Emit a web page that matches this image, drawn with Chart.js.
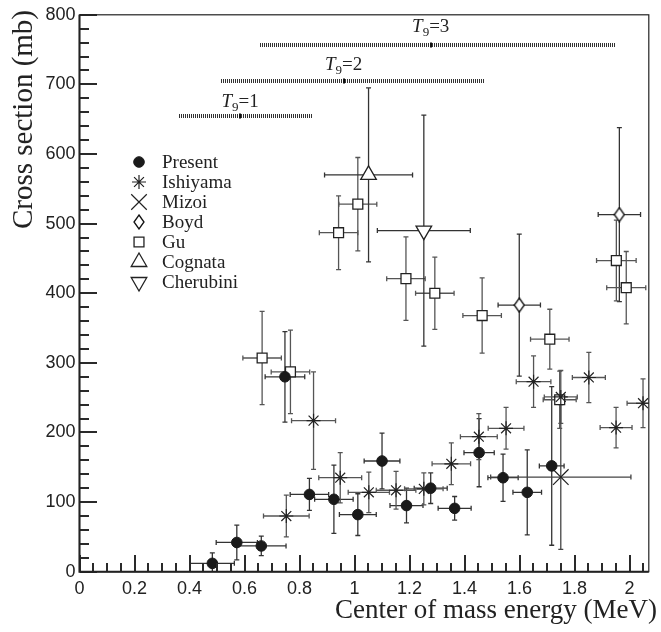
<!DOCTYPE html>
<html>
<head>
<meta charset="utf-8">
<script src="https://cdn.jsdelivr.net/npm/chart.js@4/dist/chart.umd.min.js"></script>
<style>
  html, body { margin: 0; padding: 0; background: #fff; }
  canvas { display: block; }
</style>
</head>
<body>
<canvas id="grafico" width="661" height="632"></canvas>
<script>
// Dados (energia em MeV, seção de choque em mb)
const presentE = [0.483, 0.572, 0.661, 0.747, 0.836, 0.925, 1.012, 1.100, 1.189, 1.277, 1.364, 1.453, 1.540, 1.628, 1.717];
const presentS = [12, 42, 37, 280, 111, 104, 82, 159, 95, 120, 91, 171, 135, 114, 152];
const presentDE = [0.08, 0.075, 0.09, 0.072, 0.07, 0.07, 0.067, 0.065, 0.06, 0.06, 0.06, 0.055, 0.055, 0.052, 0.045];
const presentDS = [15, 25, 14, 65, 23, 49, 30, 40, 25, 22, 17, 49, 34, 61, 114];

const ishiyamaE = [0.752, 0.851, 0.948, 1.052, 1.151, 1.252, 1.352, 1.452, 1.551, 1.651, 1.750, 1.852, 1.951, 2.049];
const ishiyamaS = [80, 217, 135, 114, 117, 119, 155, 194, 206, 273, 251, 279, 207, 242];
const ishiyamaDE = [0.083, 0.08, 0.078, 0.075, 0.072, 0.07, 0.07, 0.067, 0.065, 0.063, 0.06, 0.06, 0.058, 0.058];
const ishiyamaDS = [30, 70, 36, 29, 27, 23, 30, 33, 30, 37, 38, 36, 29, 35];

const mizoiE = [1.75];
const mizoiS = [136];
const mizoiDE = [0.255];
const mizoiDS = [104];

const boydE = [1.599, 1.963];
const boydS = [383, 513];
const boydDE = [0.077, 0.077];
const boydDS = [102, 125];

const guE = [0.664, 0.767, 0.942, 1.012, 1.187, 1.292, 1.464, 1.710, 1.746, 1.952, 1.988];
const guS = [307, 287, 487, 528, 421, 400, 368, 334, 247, 447, 408];
const guDE = [0.07, 0.07, 0.07, 0.069, 0.07, 0.07, 0.07, 0.07, 0.06, 0.072, 0.071];
const guDS = [67, 60, 53, 67, 60, 52, 54, 43, 41, 58, 52];

const cognataE = [1.051];
const cognataS = [570];
const cognataDE = [0.16];
const cognataDS = [125];

const cherubiniE = [1.252];
const cherubiniS = [490];
const cherubiniDE = [0.169];
const cherubiniDS = [166];

// Janelas de Gamow
const t9Rotulos = ['1', '2', '3'];
const t9Inicio = [0.36, 0.514, 0.655];
const t9Fim = [0.843, 1.467, 1.945];
const t9Nivel = [654, 705, 756];
const t9Pico = [0.584, 0.96, 1.277];

// posições das marcas dos eixos (principais e secundárias)
const marcasX = [];
for (let k = 0; k * 5 <= 207; k++) marcasX.push({ v: k * 0.05, maior: k % 4 === 0 });
const marcasY = [];
for (let k = 0; k * 20 <= 800; k++) marcasY.push({ v: k * 20, maior: k % 5 === 0 });

const legendaNomes = ['Present', 'Ishiyama', 'Mizoi', 'Boyd', 'Gu', 'Cognata', 'Cherubini'];

const SERIF = '"Liberation Serif", "Times New Roman", serif';
const SANS = '"Liberation Sans", Arial, sans-serif';

function pontos(E, S, dE, dS) {
    return E.map((e, i) => ({ x: e, y: S[i], dx: dE[i], dy: dS[i] }));
}

// losango mais alto que largo (Boyd)
function losango(w, h) {
    const c = document.createElement('canvas');
    c.width = w + 2;
    c.height = h + 2;
    const g = c.getContext('2d');
    g.beginPath();
    g.moveTo(c.width / 2, 1);
    g.lineTo(c.width - 1, c.height / 2);
    g.lineTo(c.width / 2, c.height - 1);
    g.lineTo(1, c.height / 2);
    g.closePath();
    g.fillStyle = '#fff';
    g.fill();
    g.strokeStyle = '#111';
    g.lineWidth = 1.3;
    g.stroke();
    return c;
}
const imgLosango = losango(10, 14);

const estilos = [
    { pointStyle: 'circle', radius: 5.3, backgroundColor: '#1a1a1a', borderColor: '#1a1a1a', borderWidth: 1, rotation: 0 },
    { pointStyle: 'star', radius: 7, backgroundColor: '#fff', borderColor: '#222', borderWidth: 1.2, rotation: 0 },
    { pointStyle: 'crossRot', radius: 11, backgroundColor: '#fff', borderColor: '#222', borderWidth: 1.2, rotation: 0 },
    { pointStyle: imgLosango, radius: 7, backgroundColor: '#fff', borderColor: '#222', borderWidth: 1.2, rotation: 0 },
    { pointStyle: 'rect', radius: 7, backgroundColor: '#fff', borderColor: '#222', borderWidth: 1.3, rotation: 0 },
    { pointStyle: 'triangle', radius: 9, backgroundColor: '#fff', borderColor: '#222', borderWidth: 1.3, rotation: 0 },
    { pointStyle: 'triangle', radius: 9, backgroundColor: '#fff', borderColor: '#222', borderWidth: 1.3, rotation: 180 }
];

const series = [
    pontos(presentE, presentS, presentDE, presentDS),
    pontos(ishiyamaE, ishiyamaS, ishiyamaDE, ishiyamaDS),
    pontos(mizoiE, mizoiS, mizoiDE, mizoiDS),
    pontos(boydE, boydS, boydDE, boydDS),
    pontos(guE, guS, guDE, guDS),
    pontos(cognataE, cognataS, cognataDE, cognataDS),
    pontos(cherubiniE, cherubiniS, cherubiniDE, cherubiniDS)
];
const corErro = ['#333', '#555', '#444', '#333', '#555', '#333', '#333'];

const datasets = series.map((dados, i) => {
    const e = estilos[i];
    return {
        label: legendaNomes[i],
        data: dados,
        erros: true,
        corErro: corErro[i],
        pointStyle: e.pointStyle,
        pointRadius: e.radius,
        pointBackgroundColor: e.backgroundColor,
        pointBorderColor: e.borderColor,
        pointBorderWidth: e.borderWidth,
        pointRotation: e.rotation,
        pointHoverRadius: e.radius
    };
});

const barrasErro = {
    id: 'barrasErro',
    beforeDatasetsDraw(chart) {
        const { ctx, chartArea: a } = chart;
        const x = chart.scales.x, y = chart.scales.y;

        ctx.save();
        ctx.setLineDash([]);
        ctx.beginPath();
        ctx.rect(a.left, a.top, a.right - a.left, a.bottom - a.top);
        ctx.clip();
        ctx.lineWidth = 1.3;
        const c = 2.5;
        chart.data.datasets.forEach(ds => {
            if (!ds.erros) return;
            ctx.strokeStyle = ds.corErro;
            ds.data.forEach(p => {
                const px = x.getPixelForValue(p.x), py = y.getPixelForValue(p.y);
                const x1 = x.getPixelForValue(p.x - p.dx), x2 = x.getPixelForValue(p.x + p.dx);
                const y1 = y.getPixelForValue(p.y - p.dy), y2 = y.getPixelForValue(p.y + p.dy);
                ctx.beginPath();
                ctx.moveTo(x1, py); ctx.lineTo(x2, py);
                ctx.moveTo(x1, py - c); ctx.lineTo(x1, py + c);
                ctx.moveTo(x2, py - c); ctx.lineTo(x2, py + c);
                ctx.moveTo(px, y1); ctx.lineTo(px, y2);
                ctx.moveTo(px - c, y1); ctx.lineTo(px + c, y1);
                ctx.moveTo(px - c, y2); ctx.lineTo(px + c, y2);
                ctx.stroke();
            });
        });

        // janelas T9: fileira de tracinhos verticais
        ctx.strokeStyle = '#333';
        ctx.lineWidth = 1;
        ctx.beginPath();
        t9Rotulos.forEach((r, i) => {
            const xa = Math.round(x.getPixelForValue(t9Inicio[i]));
            const xb = Math.round(x.getPixelForValue(t9Fim[i]));
            const py = Math.round(y.getPixelForValue(t9Nivel[i]));
            for (let px = xa; px <= xb; px += 2) {
                ctx.moveTo(px + 0.5, py - 2);
                ctx.lineTo(px + 0.5, py + 2);
            }
        });
        ctx.stroke();
        ctx.lineWidth = 2;
        ctx.strokeStyle = '#111';
        ctx.beginPath();
        t9Pico.forEach((p, i) => {
            const px = Math.round(x.getPixelForValue(p));
            const py = Math.round(y.getPixelForValue(t9Nivel[i]));
            ctx.moveTo(px, py - 2.5); ctx.lineTo(px, py + 2.5);
        });
        ctx.stroke();
        ctx.restore();
    }
};

// moldura, marcas, títulos, legenda e rótulos T9
const decoracao = {
    id: 'decoracao',
    afterDraw(chart) {
        const { ctx, chartArea: a } = chart;
        const sx = chart.scales.x, sy = chart.scales.y;

        ctx.save();
        ctx.setLineDash([]);

        // marcas dos eixos, para dentro (pixels inteiros)
        ctx.fillStyle = '#2a2a2a';
        const base = Math.round(a.bottom);
        const esq = Math.round(a.left);
        marcasX.forEach(m => {
            const px = Math.round(sx.getPixelForValue(m.v));
            const len = m.maior ? 17 : 9;
            ctx.fillRect(px - 1, base - len, 2, len);
        });
        marcasY.forEach(m => {
            const py = Math.round(sy.getPixelForValue(m.v));
            const len = m.maior ? 17 : 9;
            ctx.fillRect(esq, py - 1, len, 2);
        });

        // moldura
        ctx.strokeStyle = '#222';
        ctx.lineWidth = 1.2;
        ctx.strokeRect(a.left, a.top, a.right - a.left, a.bottom - a.top);
        ctx.lineWidth = 2;
        ctx.beginPath();
        ctx.moveTo(a.left, a.top);
        ctx.lineTo(a.left, a.bottom);
        ctx.lineTo(a.right, a.bottom);
        ctx.stroke();

        // rótulos T9
        ctx.fillStyle = '#222';
        ctx.textBaseline = 'alphabetic';
        const offs = [9, 11, 13];
        t9Rotulos.forEach((r, i) => {
            const px = sx.getPixelForValue(t9Pico[i]);
            const py = sy.getPixelForValue(t9Nivel[i]) - offs[i];
            ctx.font = 'italic 19px ' + SERIF;
            const wT = ctx.measureText('T').width;
            ctx.font = '13px ' + SERIF;
            const w9 = ctx.measureText('9').width;
            ctx.font = '19px ' + SERIF;
            const wR = ctx.measureText('=' + r).width;
            let x0 = px - (wT + w9 + wR) / 2;
            ctx.textAlign = 'left';
            ctx.font = 'italic 19px ' + SERIF;
            ctx.fillText('T', x0, py);
            x0 += wT;
            ctx.font = '13px ' + SERIF;
            ctx.fillText('9', x0, py + 4);
            x0 += w9;
            ctx.font = '19px ' + SERIF;
            ctx.fillText('=' + r, x0, py);
        });

        // legenda
        legendaNomes.forEach((nome, i) => {
            const ly = 162 + 20 * i;
            const e = estilos[i];
            ctx.save();
            ctx.fillStyle = e.backgroundColor;
            ctx.strokeStyle = e.borderColor;
            ctx.lineWidth = e.borderWidth;
            Chart.helpers.drawPoint(ctx, { pointStyle: e.pointStyle, radius: e.radius, rotation: e.rotation, borderWidth: e.borderWidth }, 139, ly);
            ctx.restore();
            ctx.fillStyle = '#222';
            ctx.font = '19px ' + SERIF;
            ctx.textAlign = 'left';
            ctx.textBaseline = 'middle';
            ctx.fillText(nome, 162, ly + 1);
        });

        // títulos dos eixos
        ctx.fillStyle = '#222';
        ctx.font = '27px ' + SERIF;
        ctx.textAlign = 'right';
        ctx.textBaseline = 'alphabetic';
        ctx.fillText('Center of mass energy (MeV)', 657, 618);

        ctx.save();
        ctx.translate(32, 10);
        ctx.rotate(-Math.PI / 2);
        ctx.font = '29px ' + SERIF;
        ctx.textAlign = 'right';
        ctx.fillText('Cross section (mb)', 0, 0);
        ctx.restore();

        ctx.restore();
    }
};

const ctx = document.getElementById('grafico').getContext('2d');
const chart = new Chart(ctx, {
    type: 'scatter',
    data: { datasets: datasets },
    options: {
        responsive: false,
        animation: false,
        layout: { padding: { top: 12.3, right: 8.5, left: 0, bottom: 0 } },
        plugins: {
            legend: { display: false },
            tooltip: { enabled: false }
        },
        scales: {
            x: {
                type: 'linear',
                min: 0,
                max: 2.07,
                grid: { display: false, drawTicks: false },
                border: { display: false },
                ticks: {
                    stepSize: 0.2,
                    includeBounds: false,
                    autoSkip: false,
                    maxRotation: 0,
                    padding: 7,
                    color: '#222',
                    font: { family: SANS, size: 18 },
                    callback: v => String(Math.round(v * 10) / 10)
                },
                afterFit: s => { s.height = 60.3; }
            },
            y: {
                type: 'linear',
                min: 0,
                max: 800,
                grid: { display: false, drawTicks: false },
                border: { display: false },
                ticks: {
                    stepSize: 100,
                    autoSkip: false,
                    padding: 4,
                    color: '#222',
                    font: { family: SANS, size: 18 }
                },
                afterFit: s => { s.width = 79.5; }
            }
        }
    },
    plugins: [barrasErro, decoracao]
});
</script>
</body>
</html>
